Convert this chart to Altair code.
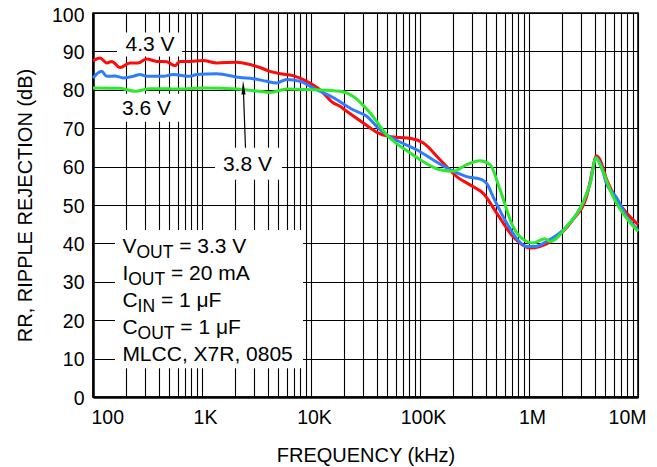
import altair as alt
import pandas as pd

FONT = "Liberation Sans"

# ---------------- data ----------------
red_f = [100, 116, 134, 149, 177, 218, 259, 311, 384, 474, 565, 628, 776, 1020, 1364,
         2080, 2754, 3400, 4204, 5200, 6840, 9140, 12100, 15930, 18460, 21270, 30000,
         41200, 49450, 65600, 80900, 106700, 152600, 217300, 306300, 378300, 505700,
         712900, 1020000, 1260000, 1660000, 2530000, 3380000, 3890000, 4120000, 4480000,
         5160000, 6370000, 7870000, 10000000]
red_db = [87.5, 88.3, 87.0, 87.4, 85.8, 87.0, 87.0, 88.0, 87.4, 87.3, 86.3, 87.4, 87.4, 87.6, 87.0,
          87.2, 86.6, 85.8, 84.8, 84.2, 83.7, 82.2, 80.0, 76.6, 75.7, 74.4, 71.4,
          68.8, 68.0, 67.6, 67.4, 66.2, 61.8, 57.4, 54.8, 53.1, 47.9,
          41.8, 38.8, 39.2, 40.9, 46.2, 52.2, 60.0, 62.8, 61.8,
          56.6, 51.4, 47.9, 44.9]

blue_f = [100, 120, 134, 159, 190, 233, 270, 311, 441, 546, 776, 894, 1364, 2230, 2940,
          3925, 4845, 5985, 7925, 10430, 15930, 24280, 32430, 41200, 49450, 65600, 93300,
          131500, 188400, 268100, 368000, 412000, 467700, 624000, 760000, 952000, 1135000,
          1450000, 2220000, 3130000, 3630000, 4120000, 4480000, 5160000, 6370000, 7870000,
          10000000]
blue_db = [83.1, 84.8, 83.5, 83.6, 83.1, 83.5, 84.0, 83.5, 83.5, 84.0, 83.5, 84.0, 84.2, 83.2, 82.9,
           82.2, 81.8, 82.7, 82.2, 80.5, 78.0, 74.8, 73.1, 70.1, 68.3, 66.4, 64.4,
           61.8, 59.2, 57.4, 56.6, 55.5, 52.2, 45.3, 41.5, 39.2, 39.2,
           40.5, 44.4, 50.6, 55.5, 62.3, 61.0, 55.5, 51.9, 47.0,
           43.5]

green_f = [100, 177, 243, 334, 628, 1020, 2080, 3400, 4204, 5985, 10430, 18460, 24280,
           30000, 34780, 49450, 80900, 152600, 200900, 268100, 355000, 438600, 542000,
           712900, 952000, 1090000, 1400000, 1560000, 2220000, 3130000, 3630000, 4120000,
           4480000, 5900000, 7870000, 10000000]
green_db = [80.5, 80.4, 79.6, 80.3, 80.2, 80.5, 80.2, 79.6, 79.3, 80.2, 80.0, 79.6, 78.3,
            76.0, 74.0, 68.3, 63.6, 59.2, 58.8, 60.5, 61.5, 60.5, 54.0,
            44.4, 40.5, 40.1, 41.2, 40.5, 44.4, 50.6, 55.5, 62.3,
            60.5, 52.2, 46.5, 43.1]

x_grid_values = [m * 10 ** e for e in range(2, 7) for m in range(1, 10)] + [10 ** 7]
decade_values = [100, 1000, 10000, 100000, 1000000, 10000000]
decade_labels = ["100", "1K", "10K", "100K", "1M", "10M"]
y_ticks = [0, 10, 20, 30, 40, 50, 60, 70, 80, 90, 100]

curve_label_text = ["4.3 V", "3.6 V", "3.8 V"]
curve_label_f = [334, 310, 2612]
curve_label_db = [90.0, 73.5, 58.75]

box_f = [166, 166, 1315, 159]
box_f2 = [656, 628, 5420, 8450]
box_db = [88.7, 71.7, 56.6, 7.5]
box_db2 = [94.9, 79.0, 64.9, 43.5]

cond_main = ["V", "I", "C", "C", "MLCC, X7R, 0805"]
cond_sub = ["OUT", "OUT", "IN", "OUT", ""]
cond_rest = ["= 3.3 V", "= 20 mA", "= 1 μF", "= 1 μF", ""]
cond_db = [37.5, 30.5, 23.5, 16.5, 9.3]
cond_f = 186

arrow_f, arrow_db = 2393, 80.6
arrow_f2, arrow_db2 = 2506, 64.9

# ---------------- helpers ----------------
ARIAL_W = {" ": 278, ",": 278, ".": 278, "=": 584, "A": 667, "C": 722, "F": 611, "I": 278,
           "L": 556, "M": 833, "N": 722, "O": 778, "R": 722, "T": 611, "U": 722, "V": 667,
           "X": 667, "m": 833, "μ": 576}


def text_w(s, size):
    return sum(ARIAL_W.get(c, 556) for c in s) * size / 1000.0


MAIN_FS = 21
SUB_FS = 17.5

label_expr = " : ".join(
    f"datum.value == {v} ? '{l}'" for v, l in zip(decade_values, decade_labels)) + " : ''"

xscale = alt.Scale(type="log", domain=[100, 10 ** 7], nice=False)
yscale = alt.Scale(domain=[0, 100], nice=False)

x_axis = alt.Axis(values=x_grid_values, labelExpr=label_expr, grid=True, gridColor="#000",
                  gridWidth=1.1, gridOpacity=1, ticks=False, domainColor="#000", domainWidth=2.5,
                  labelFont=FONT, labelFontSize=19.5, labelColor="#000", labelPadding=11,
                  labelFlush=True, labelFlushOffset=5, labelOffset=3, labelOverlap=False,
                  labelBound=False,
                  title="FREQUENCY (kHz)", titleFont=FONT, titleFontSize=20,
                  titleFontWeight="normal", titleColor="#000", titleBaseline="alphabetic",
                  titleY=64.5, titleX=272.5, titleAlign="center")
y_axis = alt.Axis(values=y_ticks, tickCount=11, grid=True, gridColor="#000", gridWidth=1.1,
                  gridOpacity=1, ticks=False, domainColor="#000", domainWidth=2.5, labelFont=FONT,
                  labelFontSize=19.5, labelColor="#000", labelPadding=9,
                  labelOffset={"condition": {"test": "datum.value == 100", "value": 2.5},
                               "value": 1},
                  labelOverlap=False,
                  title="RR, RIPPLE REJECTION (dB)", titleFont=FONT, titleFontSize=20,
                  titleFontWeight="normal", titleColor="#000", titleAngle=270,
                  titleBaseline="alphabetic", titleX=-61.5, titleY=192, titleAlign="center")

X = alt.X("f:Q", scale=xscale, axis=x_axis)
Y = alt.Y("db:Q", scale=yscale, axis=y_axis)

# ---------------- layers ----------------
boxes = pd.DataFrame({"f": box_f, "f2": box_f2, "db": box_db, "db2": box_db2})
box_layer = alt.Chart(boxes).mark_rect(color="white", opacity=1).encode(
    x=X, x2="f2:Q", y=Y, y2="db2:Q")


def curve(fs, dbs, color):
    df = pd.DataFrame({"f": fs, "db": dbs})
    return alt.Chart(df).mark_line(color=color, strokeWidth=3, interpolate="monotone").encode(
        x=X, y=Y)


red = curve(red_f, red_db, "#ff0a0a")
blue = curve(blue_f, blue_db, "#2f7dff")
green = curve(green_f, green_db, "#2ee82e")

arrow_df = pd.DataFrame({"f": [arrow_f], "db": [arrow_db], "f2": [arrow_f2], "db2": [arrow_db2]})
arrow_line = alt.Chart(arrow_df).mark_rule(color="black", strokeWidth=1.2).encode(
    x=X, y=Y, x2="f2:Q", y2="db2:Q")
arrow_head = alt.Chart(arrow_df).mark_point(
    shape="M0,-1L0.29,1L-0.29,1Z", filled=True, size=196, angle=358, color="black",
    opacity=1).encode(x=X, y=Y)

labels_df = pd.DataFrame({"t": curve_label_text, "f": curve_label_f, "db": curve_label_db})
curve_labels = alt.Chart(labels_df).mark_text(
    font=FONT, fontSize=MAIN_FS, color="black", align="center", baseline="alphabetic").encode(
    x=X, y=Y, text="t:N")

cond_layers = []
for main, sub, rest, db in zip(cond_main, cond_sub, cond_rest, cond_db):
    segs = [(main, 0.0, 0, MAIN_FS)]
    if sub:
        wm = text_w(main, MAIN_FS)
        segs.append((sub, wm, 5, SUB_FS))
        segs.append((rest, wm + text_w(sub, SUB_FS) + text_w(" ", MAIN_FS), 0, MAIN_FS))
    for txt, dx, dy, fs in segs:
        d = pd.DataFrame({"t": [txt], "f": [cond_f], "db": [db]})
        cond_layers.append(alt.Chart(d).mark_text(
            font=FONT, fontSize=fs, color="black", align="left", baseline="alphabetic",
            dx=dx, dy=dy).encode(x=X, y=Y, text="t:N"))

chart = alt.layer(box_layer, red, blue, green, arrow_line, arrow_head, curve_labels,
                  *cond_layers).properties(
    width=545, height=384,
    autosize=alt.AutoSizeParams(type="none"),
    padding={"left": 85, "top": 5, "right": 11, "bottom": 70},
    background="white",
).configure_view(stroke="black", strokeWidth=1.5)

chart.save("out.html", embed_options={"renderer": "svg", "actions": False})
